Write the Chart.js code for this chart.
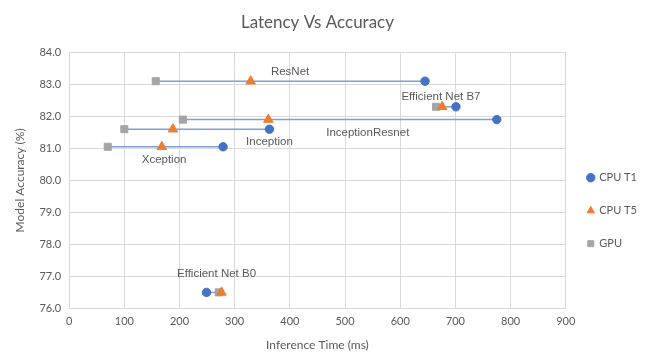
<!DOCTYPE html>
<html>
<head>
<meta charset="utf-8">
<script src="https://cdn.jsdelivr.net/npm/chart.js@4.4.1/dist/chart.umd.min.js"></script>
<style>
  html, body { margin: 0; padding: 0; background: #fff; }
  #wrap { width: 665px; height: 358px; }
</style>
</head>
<body>
<div id="wrap"><canvas id="myChart"></canvas></div>
<script>
// data
const models = ['ResNet', 'Efficient Net B7', 'InceptionResnet', 'Inception', 'Xception', 'Efficient Net B0'];
const accuracy = [83.1, 82.3, 81.9, 81.6, 81.05, 76.5];
const cpuT1 = [645, 701, 775, 363, 279, 249];
const cpuT5 = [329, 676, 361, 188, 168, 276];
const gpu = [157, 665, 206, 100, 70, 271];
const seriesNames = ['CPU T1', 'CPU T5', 'GPU'];

// where each model name sits, relative to its CPU T1 point (px)
const labelShift = [[-135, -9], [-15, -10], [-129, 13], [0, 13], [-59, 13], [10, -19]];

const grey = '#595959';
const fontName = 'Lato, "Liberation Sans", sans-serif';

function pts(xs) {
    return xs.map((x, i) => ({ x: x, y: accuracy[i] }));
}

// one thin line per model, from its fastest to its slowest run
const rangeSets = models.map((m, i) => {
    const xs = [cpuT1[i], cpuT5[i], gpu[i]];
    return {
        label: m,
        data: [{ x: Math.min(...xs), y: accuracy[i] }, { x: Math.max(...xs), y: accuracy[i] }],
        showLine: true,
        borderColor: '#7f9fd8',
        borderWidth: 1.5,
        pointRadius: 0,
        order: 5
    };
});

const nameLabels = {
    id: 'nameLabels',
    afterDatasetsDraw(chart) {
        const ctx = chart.ctx;
        const xs = chart.scales.x, ys = chart.scales.y;
        ctx.save();
        ctx.font = '11.5px "Liberation Sans", Arial, sans-serif';
        ctx.fillStyle = grey;
        ctx.textAlign = 'center';
        ctx.textBaseline = 'middle';
        models.forEach((m, i) => {
            const px = xs.getPixelForValue(cpuT1[i]) + labelShift[i][0];
            const py = ys.getPixelForValue(accuracy[i]) + labelShift[i][1];
            ctx.fillText(m, px, py);
        });
        ctx.restore();
    }
};

const config = {
    type: 'scatter',
    data: {
        datasets: [
            {
                label: seriesNames[0], data: pts(cpuT1),
                pointStyle: 'circle', pointRadius: 4.2,
                backgroundColor: '#4472C4', borderColor: '#4472C4', order: 1
            },
            {
                label: seriesNames[1], data: pts(cpuT5),
                pointStyle: 'triangle', pointRadius: 5.5,
                backgroundColor: '#ED7D31', borderColor: '#ED7D31', order: 1
            },
            {
                label: seriesNames[2], data: pts(gpu),
                pointStyle: 'rect', pointRadius: 5,
                backgroundColor: '#A5A5A5', borderColor: '#A5A5A5', order: 1
            }
        ].concat(rangeSets)
    },
    options: {
        responsive: true,
        maintainAspectRatio: false,
        animation: false,
        layout: { padding: { top: 6, left: 9, right: 18, bottom: 2 } },
        plugins: {
            tooltip: { enabled: false },
            title: {
                display: true,
                text: 'Latency Vs Accuracy',
                fullSize: false,
                color: grey,
                font: { family: fontName, size: 17, weight: 'normal' },
                padding: { top: 6, bottom: 20 }
            },
            legend: {
                position: 'right',
                title: { display: true, text: ' ', padding: { top: 0, bottom: 45 } },
                labels: {
                    filter: (item) => item.datasetIndex < 3,
                    usePointStyle: true,
                    boxWidth: 6,
                    boxHeight: 6,
                    padding: 22,
                    color: grey,
                    font: { family: fontName, size: 11 }
                }
            }
        },
        scales: {
            x: {
                type: 'linear',
                min: 0,
                max: 900,
                ticks: { stepSize: 100, color: grey, font: { family: fontName, size: 11 }, padding: 6 },
                grid: { color: '#d9d9d9', drawTicks: false },
                border: { color: '#d9d9d9' },
                title: { display: true, text: 'Inference Time (ms)', color: grey, font: { family: fontName, size: 12 } }
            },
            y: {
                min: 76,
                max: 84,
                ticks: {
                    stepSize: 1, color: grey, font: { family: fontName, size: 11 }, padding: 8,
                    callback: (v) => v.toFixed(1)
                },
                grid: { color: '#d9d9d9', drawTicks: false },
                border: { color: '#d9d9d9' },
                title: { display: true, text: 'Model Accuracy (%)', color: grey, font: { family: fontName, size: 12 } }
            }
        }
    },
    plugins: [nameLabels]
};

new Chart(document.getElementById('myChart').getContext('2d'), config);
</script>
</body>
</html>
